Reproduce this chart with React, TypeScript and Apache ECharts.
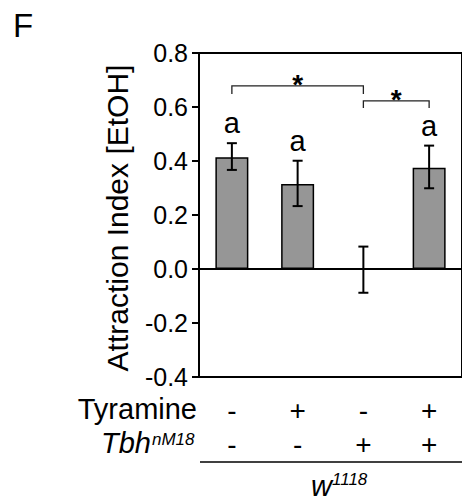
import React, { useEffect, useRef } from "react";
import * as echarts from "echarts";

// ---- data ----
const categories = ["W-", "W+Tyr", "Tbh", "Tbh+Tyr"];
const tyramineRow = ["-", "+", "-", "+"];
const tbhRow = ["-", "-", "+", "+"];
const means = [0.414, 0.315, 0.0, 0.375];
const errLow = [0.367, 0.233, -0.088, 0.299];
const errHigh = [0.466, 0.401, 0.083, 0.457];
const letters = ["a", "a", "", "a"];
// brackets: from index, to index, line value, tick end value
const bracketFrom = [0, 2];
const bracketTo = [2, 3];
const bracketLine = [0.678, 0.623];
const bracketTickEnd = [0.648, 0.596];
const bracketMarks = ["*", "*"];
const yMin = -0.4;
const yMax = 0.8;
const yStep = 0.2;
const yTitle = "Attraction Index [EtOH]";

const FONT = "'Liberation Sans', Arial, Helvetica, sans-serif";

export default function App() {
  const ref = useRef<HTMLDivElement>(null);
  useEffect(() => {
    if (!ref.current) return;
    const chart = echarts.init(ref.current, undefined, { renderer: "svg" });
    const gridLeft = 199;
    const gridTop = 53;
    const gridWidth = 268;
    const gridHeight = 324;

    const option: any = {
      animation: false,
      backgroundColor: "#fff",
      textStyle: { fontFamily: FONT },
      grid: {
        left: gridLeft,
        top: gridTop,
        width: gridWidth,
        height: gridHeight,
        show: true,
        borderColor: "#000",
        borderWidth: 2,
        backgroundColor: "transparent",
        containLabel: false,
      },
      xAxis: [
        {
          type: "category",
          data: categories,
          position: "bottom",
          axisLine: { show: true, onZero: true, lineStyle: { color: "#000", width: 2 } },
          axisTick: { show: false },
          axisLabel: { show: false },
          splitLine: { show: false },
        },
        {
          type: "category",
          data: categories,
          position: "bottom",
          axisLine: { show: false, onZero: false },
          axisTick: { show: false },
          splitLine: { show: false },
          axisLabel: {
            show: true,
            interval: 0,
            margin: 16,
            color: "#000",
            fontFamily: FONT,
            fontSize: 28,
            lineHeight: 34,
            formatter: (_v: string, i: number) => `${tyramineRow[i]}\n${tbhRow[i]}`,
          },
        },
      ],
      yAxis: {
        type: "value",
        min: yMin,
        max: yMax,
        interval: yStep,
        axisLine: { show: true, lineStyle: { color: "#000", width: 2 } },
        axisTick: { show: true, inside: false, length: 7, lineStyle: { color: "#000", width: 2 } },
        axisLabel: {
          margin: 11,
          fontSize: 25,
          color: "#000",
          fontFamily: FONT,
          formatter: (v: number) => v.toFixed(1),
        },
        splitLine: { show: false },
      },
      series: [
        {
          type: "bar",
          xAxisIndex: 0,
          data: means,
          barWidth: 33,
          itemStyle: { color: "#969696", borderColor: "#000", borderWidth: 1.5 },
          z: 2,
        },
        {
          type: "custom",
          xAxisIndex: 0,
          encode: { x: 0, y: [1, 2] },
          data: categories.map((_, i) => [i, errLow[i], errHigh[i]]),
          z: 3,
          renderItem: (params: any, api: any) => {
            const i = api.value(0);
            const pHi = api.coord([i, api.value(2)]);
            const pLo = api.coord([i, api.value(1)]);
            const cap = 5;
            const st = { stroke: "#000", lineWidth: 2 };
            const children: any[] = [
              { type: "line", shape: { x1: pHi[0], y1: pHi[1], x2: pLo[0], y2: pLo[1] }, style: st },
              { type: "line", shape: { x1: pHi[0] - cap, y1: pHi[1], x2: pHi[0] + cap, y2: pHi[1] }, style: st },
              { type: "line", shape: { x1: pLo[0] - cap, y1: pLo[1], x2: pLo[0] + cap, y2: pLo[1] }, style: st },
            ];
            const letter = letters[params.dataIndex];
            if (letter) {
              children.push({
                type: "text",
                x: pHi[0],
                y: pHi[1] - 20,
                style: {
                  text: letter,
                  fontSize: 29,
                  fontFamily: FONT,
                  fill: "#000",
                  align: "center",
                  verticalAlign: "middle",
                },
              });
            }
            return { type: "group", children };
          },
        },
        {
          type: "custom",
          xAxisIndex: 0,
          encode: { x: [0, 1], y: [2, 3] },
          data: bracketFrom.map((f, k) => [f, bracketTo[k], bracketLine[k], bracketTickEnd[k]]),
          z: 3,
          renderItem: (params: any, api: any) => {
            const a = api.coord([api.value(0), api.value(2)]);
            const b = api.coord([api.value(1), api.value(2)]);
            const t = api.coord([api.value(0), api.value(3)]);
            return {
              type: "group",
              children: [
                {
                  type: "polyline",
                  shape: {
                    points: [
                      [a[0], t[1]],
                      [a[0], a[1]],
                      [b[0], b[1]],
                      [b[0], t[1]],
                    ],
                  },
                  style: { stroke: "#222", lineWidth: 1.3, fill: "none" },
                },
                {
                  type: "text",
                  x: (a[0] + b[0]) / 2,
                  y: a[1] - 1,
                  style: {
                    text: bracketMarks[params.dataIndex],
                    fontSize: 28,
                    fontWeight: "bold",
                    fontFamily: FONT,
                    fill: "#000",
                    align: "center",
                    verticalAlign: "middle",
                  },
                },
              ],
            };
          },
        },
      ],
      graphic: [
        {
          type: "text",
          x: 13,
          y: 25,
          style: { text: "F", fontSize: 33, fontFamily: FONT, fill: "#000", align: "left", verticalAlign: "middle" },
        },
        {
          type: "text",
          x: 117,
          y: 218,
          rotation: Math.PI / 2,
          style: { text: yTitle, fontSize: 30, fontFamily: FONT, fill: "#000", align: "center", verticalAlign: "middle" },
        },
        {
          type: "text",
          x: 197,
          y: 409,
          style: { text: "Tyramine", fontSize: 29, fontFamily: FONT, fill: "#000", align: "right", verticalAlign: "middle" },
        },
        {
          type: "text",
          x: 151,
          y: 443,
          style: {
            text: "Tbh",
            fontSize: 29,
            fontStyle: "italic",
            fontFamily: FONT,
            fill: "#000",
            align: "right",
            verticalAlign: "middle",
          },
        },
        {
          type: "text",
          x: 152,
          y: 439,
          style: {
            text: "nM18",
            fontSize: 17,
            fontStyle: "italic",
            fontFamily: FONT,
            fill: "#000",
            align: "left",
            verticalAlign: "middle",
          },
        },
        {
          type: "line",
          shape: { x1: gridLeft + 1, y1: 462, x2: gridLeft + gridWidth, y2: 462 },
          style: { stroke: "#000", lineWidth: 1.5 },
        },
        {
          type: "text",
          x: 332,
          y: 486,
          style: {
            text: "w",
            fontSize: 29,
            fontStyle: "italic",
            fontFamily: FONT,
            fill: "#000",
            align: "right",
            verticalAlign: "middle",
          },
        },
        {
          type: "text",
          x: 332,
          y: 479,
          style: {
            text: "1118",
            fontSize: 17,
            fontStyle: "italic",
            fontFamily: FONT,
            fill: "#000",
            align: "left",
            verticalAlign: "middle",
          },
        },
      ],
    };
    chart.setOption(option);
    return () => chart.dispose();
  }, []);
  return (
    <div
      ref={ref}
      style={{ position: "fixed", left: 0, top: 0, width: 462, height: 501, background: "#fff" }}
    />
  );
}
